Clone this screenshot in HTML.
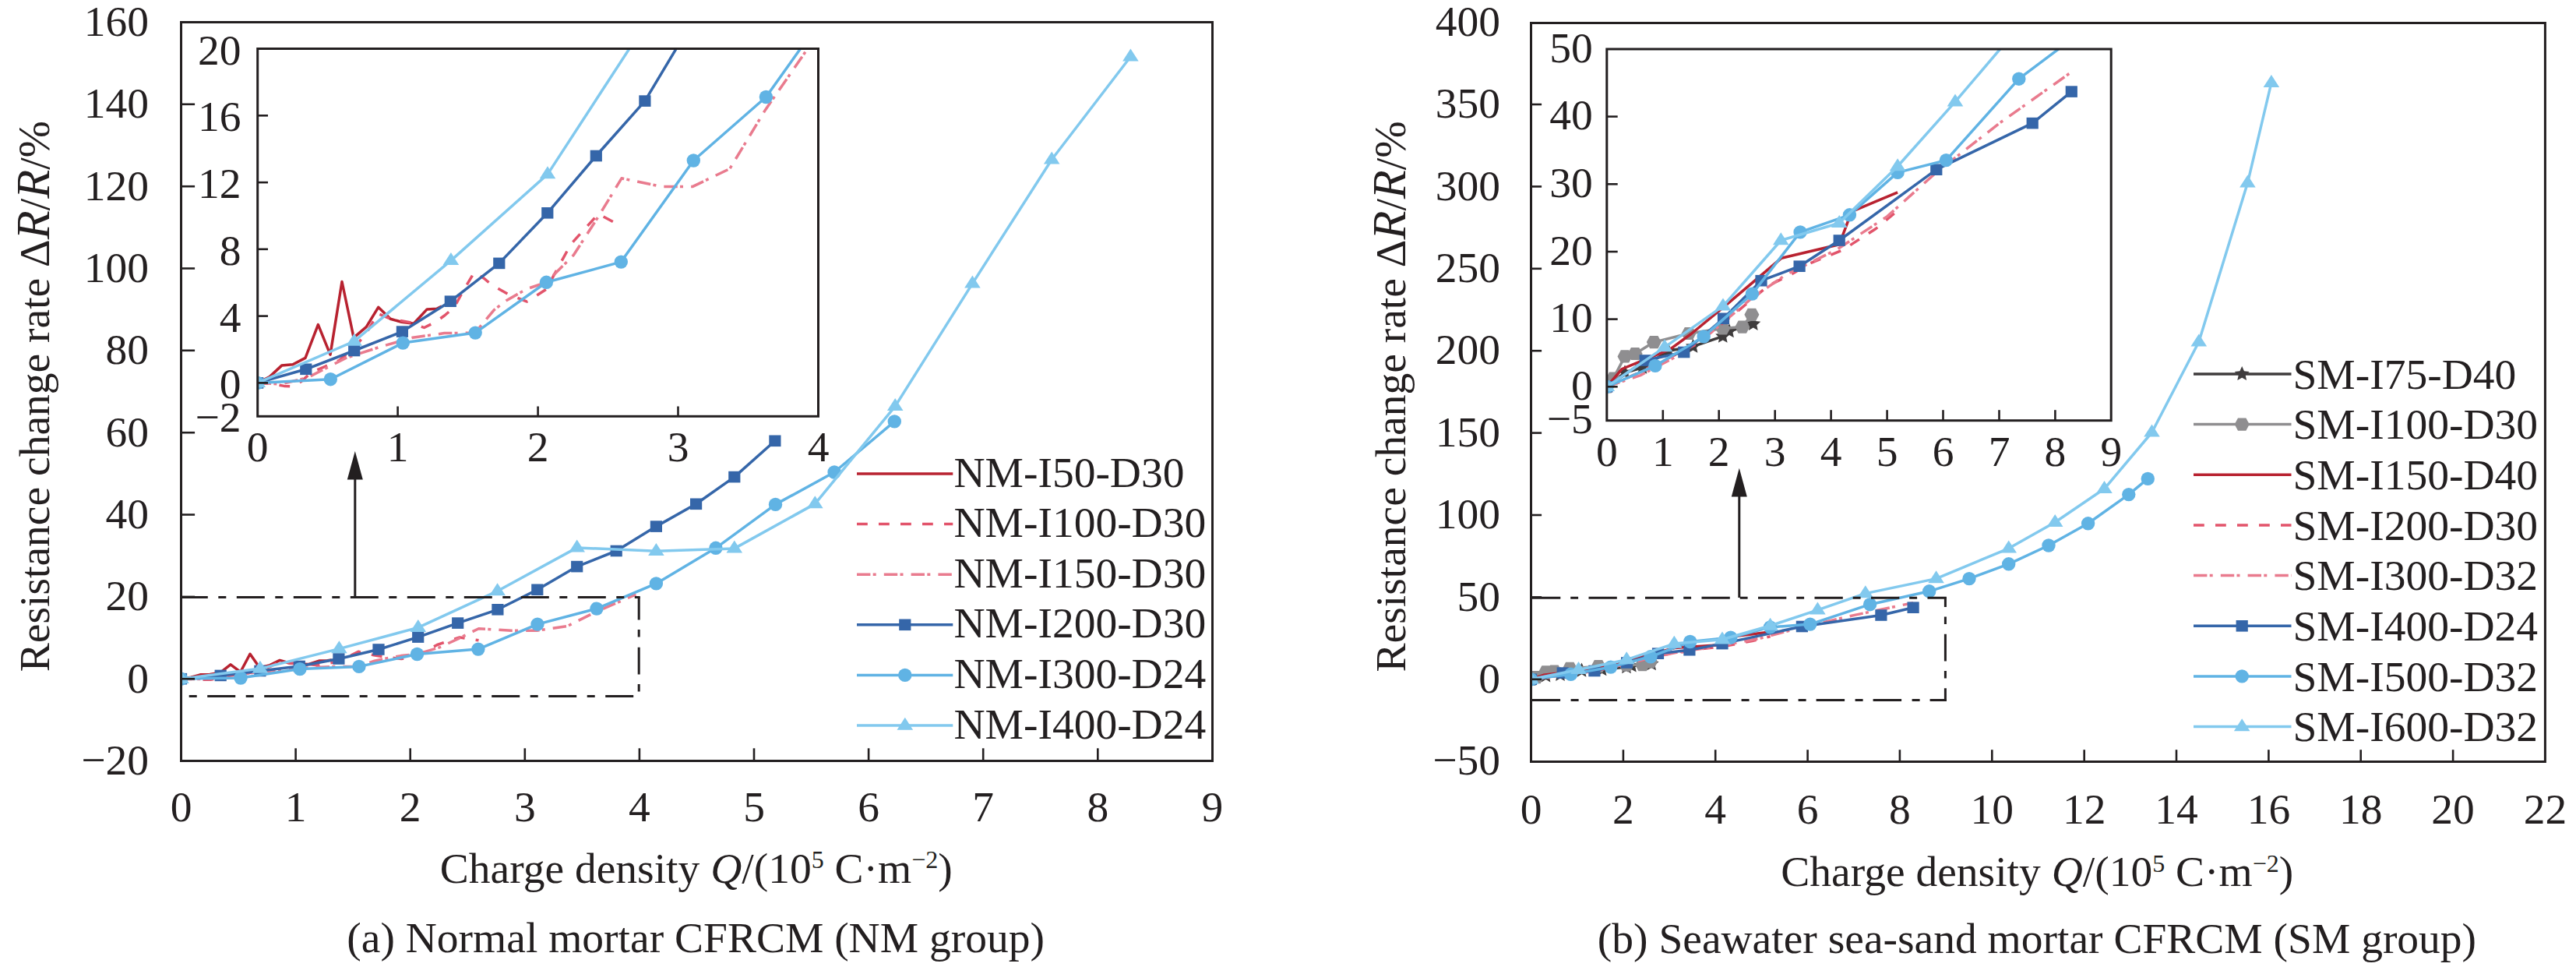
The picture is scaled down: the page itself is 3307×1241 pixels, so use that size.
<!DOCTYPE html>
<html><head><meta charset="utf-8"><title>Resistance change rate vs charge density</title>
<style>html,body{margin:0;padding:0;background:#fff;width:3307px;height:1241px;overflow:hidden}svg{display:block}</style>
</head><body>
<svg width="3307" height="1241" viewBox="0 0 3307 1241" font-family="&quot;Liberation Serif&quot;, serif" fill="#231f20">
<defs>
<clipPath id="cA"><rect x="330.7" y="62.5" width="719.8" height="471.79999999999995"/></clipPath>
<clipPath id="cB"><rect x="2062.8" y="63.0" width="647.3999999999996" height="476.70000000000005"/></clipPath>
<clipPath id="cMA"><rect x="232.5" y="28.5" width="1324.0" height="948.0"/></clipPath>
<clipPath id="cMB"><rect x="1965.5" y="29.5" width="1301.9" height="948.0"/></clipPath>
</defs>
<rect width="3307" height="1241" fill="#fff"/>
<g clip-path="url(#cMA)">
<polyline points="232.5,871.2 236,870.7 245.1,869.3 257.8,865.7 269.4,865.4 282.6,863.3 296,852.8 308.8,862.3 321,839.3 333.4,856.9 346.5,853.6 359.2,847.4 371.9,851 383.6,852 396.4,852.5 410.3,848 420.4,847.8 425.7,847" fill="none" stroke="#b82230" stroke-width="3.5" stroke-linejoin="round"/>
<polyline points="232.5,871.2 248.3,871.5 260.3,872.2 270.4,872.3 278.6,870.7 288.7,867.9 302.9,866.1 318.2,864.1 334.1,860 346.4,855.6 351.6,853 358.7,849.3 371.9,851 394.2,852.2 407.3,853.8 419.5,851.9 428.6,850 438.7,847.4 448.9,841.9 460,836.3 470.1,838.2 478.3,840.4 496.5,843.4 515.3,845.6 535.4,841.7 561.3,827.5 590.1,818 614.5,821.8" fill="none" stroke="#e2546b" stroke-width="3.5" stroke-linejoin="round" stroke-dasharray="13.8,14.2"/>
<polyline points="232.5,871.2 256.5,871.6 284.7,869.6 325.2,863.3 362.7,859.7 395.3,856.9 428.5,855.5 460.7,855.4 480.8,848.2 493.5,845.3 514.8,841.6 535.4,839.5 564.1,830.9 590.1,818.8 614.5,806.7 656.2,809.3 689.2,809.3 728,803.7 765.4,785.1 804.2,768.3 816.4,762.8" fill="none" stroke="#e97b8e" stroke-width="3.5" stroke-linejoin="round" stroke-dasharray="17.4,3.3,4,10.1"/>
<polyline points="232.5,871.2 283.2,866.9 333.9,861 384.3,855 434.9,845.5 486,833.5 536.7,817.6 587.7,799.6 638.9,782.3 689.8,756.8 740.7,727.1 791.2,707 842.4,675.6 893.6,646.8 942.8,612.1 994.9,565.8" fill="none" stroke="#3566a9" stroke-width="3.5" stroke-linejoin="round"/>
<rect x="224.9" y="863.9" width="15.2" height="14.6" fill="#3566a9"/>
<rect x="275.6" y="859.6" width="15.2" height="14.6" fill="#3566a9"/>
<rect x="326.3" y="853.7" width="15.2" height="14.6" fill="#3566a9"/>
<rect x="376.7" y="847.7" width="15.2" height="14.6" fill="#3566a9"/>
<rect x="427.3" y="838.2" width="15.2" height="14.6" fill="#3566a9"/>
<rect x="478.4" y="826.2" width="15.2" height="14.6" fill="#3566a9"/>
<rect x="529.1" y="810.3" width="15.2" height="14.6" fill="#3566a9"/>
<rect x="580.1" y="792.3" width="15.2" height="14.6" fill="#3566a9"/>
<rect x="631.3" y="775" width="15.2" height="14.6" fill="#3566a9"/>
<rect x="682.2" y="749.5" width="15.2" height="14.6" fill="#3566a9"/>
<rect x="733.1" y="719.8" width="15.2" height="14.6" fill="#3566a9"/>
<rect x="783.6" y="699.7" width="15.2" height="14.6" fill="#3566a9"/>
<rect x="834.8" y="668.3" width="15.2" height="14.6" fill="#3566a9"/>
<rect x="886" y="639.5" width="15.2" height="14.6" fill="#3566a9"/>
<rect x="935.2" y="604.8" width="15.2" height="14.6" fill="#3566a9"/>
<rect x="987.3" y="558.5" width="15.2" height="14.6" fill="#3566a9"/>
<polyline points="232.5,871.2 309,870 385,858.6 460.9,855.4 535.5,839.5 613.9,833.1 690,801.1 766,781.1 842.4,748.9 918.9,703.3 995.5,647.4 1071.1,606 1148.3,540.9" fill="none" stroke="#60b3e4" stroke-width="3.5" stroke-linejoin="round"/>
<circle cx="232.5" cy="871.2" r="8.7" fill="#60b3e4"/>
<circle cx="309" cy="870" r="8.7" fill="#60b3e4"/>
<circle cx="385" cy="858.6" r="8.7" fill="#60b3e4"/>
<circle cx="460.9" cy="855.4" r="8.7" fill="#60b3e4"/>
<circle cx="535.5" cy="839.5" r="8.7" fill="#60b3e4"/>
<circle cx="613.9" cy="833.1" r="8.7" fill="#60b3e4"/>
<circle cx="690" cy="801.1" r="8.7" fill="#60b3e4"/>
<circle cx="766" cy="781.1" r="8.7" fill="#60b3e4"/>
<circle cx="842.4" cy="748.9" r="8.7" fill="#60b3e4"/>
<circle cx="918.9" cy="703.3" r="8.7" fill="#60b3e4"/>
<circle cx="995.5" cy="647.4" r="8.7" fill="#60b3e4"/>
<circle cx="1071.1" cy="606" r="8.7" fill="#60b3e4"/>
<circle cx="1148.3" cy="540.9" r="8.7" fill="#60b3e4"/>
<polyline points="232.5,871.2 333.9,858.1 435.4,832.6 536.8,805.4 638.6,758.5 740.7,702.9 842.4,707.3 942.8,703.9 1046.3,646.6 1149.2,521.4 1248.4,363.9 1350.2,204.7 1451.4,72.7" fill="none" stroke="#82c9ee" stroke-width="3.5" stroke-linejoin="round"/>
<polygon points="232.5,860.9 222.2,876.9 242.8,876.9" fill="#82c9ee"/>
<polygon points="333.9,847.8 323.6,863.8 344.2,863.8" fill="#82c9ee"/>
<polygon points="435.4,822.3 425.1,838.3 445.7,838.3" fill="#82c9ee"/>
<polygon points="536.8,795.1 526.5,811.1 547.1,811.1" fill="#82c9ee"/>
<polygon points="638.6,748.2 628.3,764.2 648.9,764.2" fill="#82c9ee"/>
<polygon points="740.7,692.6 730.4,708.6 751,708.6" fill="#82c9ee"/>
<polygon points="842.4,697 832.1,713 852.7,713" fill="#82c9ee"/>
<polygon points="942.8,693.6 932.5,709.6 953.1,709.6" fill="#82c9ee"/>
<polygon points="1046.3,636.3 1036,652.3 1056.6,652.3" fill="#82c9ee"/>
<polygon points="1149.2,511.1 1138.9,527.1 1159.5,527.1" fill="#82c9ee"/>
<polygon points="1248.4,353.6 1238.1,369.6 1258.7,369.6" fill="#82c9ee"/>
<polygon points="1350.2,194.4 1339.9,210.4 1360.5,210.4" fill="#82c9ee"/>
<polygon points="1451.4,62.4 1441.1,78.4 1461.7,78.4" fill="#82c9ee"/>
</g>
<line x1="232.5" y1="766.5" x2="821.7" y2="766.5" stroke="#231f20" stroke-width="3" stroke-dasharray="36,13.5,10,13.5" stroke-dashoffset="1.7"/>
<line x1="820.2" y1="766.5" x2="820.2" y2="894.8" stroke="#231f20" stroke-width="3" stroke-dasharray="34.7,12.4,9.7,13.2" stroke-dashoffset="5.7"/>
<line x1="821.7" y1="893.4" x2="232.5" y2="893.4" stroke="#231f20" stroke-width="3" stroke-dasharray="36,13.5,10,13.5" stroke-dashoffset="64.5"/>
<line x1="455.8" y1="766.5" x2="455.8" y2="612" stroke="#231f20" stroke-width="3" />
<polygon points="455.8,579 445.8,615.5 465.8,615.5" fill="#231f20"/>
<rect x="232.5" y="28.5" width="1324" height="948" fill="none" stroke="#231f20" stroke-width="3.0"/>
<line x1="379.6" y1="976.5" x2="379.6" y2="960.3" stroke="#231f20" stroke-width="2.6" />
<line x1="526.7" y1="976.5" x2="526.7" y2="960.3" stroke="#231f20" stroke-width="2.6" />
<line x1="673.8" y1="976.5" x2="673.8" y2="960.3" stroke="#231f20" stroke-width="2.6" />
<line x1="820.9" y1="976.5" x2="820.9" y2="960.3" stroke="#231f20" stroke-width="2.6" />
<line x1="968" y1="976.5" x2="968" y2="960.3" stroke="#231f20" stroke-width="2.6" />
<line x1="1115.1" y1="976.5" x2="1115.1" y2="960.3" stroke="#231f20" stroke-width="2.6" />
<line x1="1262.2" y1="976.5" x2="1262.2" y2="960.3" stroke="#231f20" stroke-width="2.6" />
<line x1="1409.3" y1="976.5" x2="1409.3" y2="960.3" stroke="#231f20" stroke-width="2.6" />
<text x="191" y="993.8" font-size="55.5" text-anchor="end" >−20</text>
<line x1="232.5" y1="871.2" x2="250.1" y2="871.2" stroke="#231f20" stroke-width="2.6" />
<text x="191" y="888.5" font-size="55.5" text-anchor="end" >0</text>
<line x1="232.5" y1="765.9" x2="250.1" y2="765.9" stroke="#231f20" stroke-width="2.6" />
<text x="191" y="783.2" font-size="55.5" text-anchor="end" >20</text>
<line x1="232.5" y1="660.5" x2="250.1" y2="660.5" stroke="#231f20" stroke-width="2.6" />
<text x="191" y="677.8" font-size="55.5" text-anchor="end" >40</text>
<line x1="232.5" y1="555.2" x2="250.1" y2="555.2" stroke="#231f20" stroke-width="2.6" />
<text x="191" y="572.5" font-size="55.5" text-anchor="end" >60</text>
<line x1="232.5" y1="449.8" x2="250.1" y2="449.8" stroke="#231f20" stroke-width="2.6" />
<text x="191" y="467.1" font-size="55.5" text-anchor="end" >80</text>
<line x1="232.5" y1="344.5" x2="250.1" y2="344.5" stroke="#231f20" stroke-width="2.6" />
<text x="191" y="361.8" font-size="55.5" text-anchor="end" >100</text>
<line x1="232.5" y1="239.2" x2="250.1" y2="239.2" stroke="#231f20" stroke-width="2.6" />
<text x="191" y="256.5" font-size="55.5" text-anchor="end" >120</text>
<line x1="232.5" y1="133.8" x2="250.1" y2="133.8" stroke="#231f20" stroke-width="2.6" />
<text x="191" y="151.1" font-size="55.5" text-anchor="end" >140</text>
<text x="191" y="45.8" font-size="55.5" text-anchor="end" >160</text>
<text x="232.5" y="1054.2" font-size="55.5" text-anchor="middle" >0</text>
<text x="379.6" y="1054.2" font-size="55.5" text-anchor="middle" >1</text>
<text x="526.7" y="1054.2" font-size="55.5" text-anchor="middle" >2</text>
<text x="673.8" y="1054.2" font-size="55.5" text-anchor="middle" >3</text>
<text x="820.9" y="1054.2" font-size="55.5" text-anchor="middle" >4</text>
<text x="968" y="1054.2" font-size="55.5" text-anchor="middle" >5</text>
<text x="1115.1" y="1054.2" font-size="55.5" text-anchor="middle" >6</text>
<text x="1262.2" y="1054.2" font-size="55.5" text-anchor="middle" >7</text>
<text x="1409.3" y="1054.2" font-size="55.5" text-anchor="middle" >8</text>
<text x="1556.4" y="1054.2" font-size="55.5" text-anchor="middle" >9</text>
<rect x="330.7" y="62.5" width="719.8" height="471.8" fill="#fff"/>
<polyline points="330.7,491.4 335,489.2 346.1,483.6 361.6,469.1 375.9,467.8 392,459.4 408.4,416.6 424,455.1 439,361.5 454.1,433.3 470.2,419.7 485.7,394.3 501.2,409.2 515.5,413.3 531.2,415.3 548.2,396.9 560.6,396.3 567,393" fill="none" stroke="#b82230" stroke-width="3.5" stroke-linejoin="round" clip-path="url(#cA)"/>
<polyline points="330.7,491.4 350,492.5 364.7,495.4 377.1,496 387.1,489.2 399.5,478 416.8,470.6 435.5,462.5 455,446 470,428 476.4,417.2 485.1,402.3 501.2,409.2 528.5,414.1 544.5,420.5 559.4,413 570.6,405 583,394.4 595.4,372.1 609,349.2 621.4,357.2 631.4,365.9 653.7,378.3 676.6,387.1 701.2,371.3 732.9,313.3 768.1,274.6 798,290.4" fill="none" stroke="#e2546b" stroke-width="3.5" stroke-linejoin="round" stroke-dasharray="13.8,14.2" clip-path="url(#cA)"/>
<polyline points="330.7,491.4 360,493 394.5,484.8 444.1,459.4 490,444.5 529.8,433.3 570.5,427.6 609.8,427.1 634.4,397.7 650,385.8 676,370.9 701.2,362.5 736.4,327.3 768.1,278.1 798,228.8 849,239.4 889.4,239.4 936.9,216.5 982.6,140.9 1030.1,72.3 1045,50" fill="none" stroke="#e97b8e" stroke-width="3.5" stroke-linejoin="round" stroke-dasharray="17.4,3.3,4,10.1" clip-path="url(#cA)"/>
<g clip-path="url(#cA)">
<polyline points="330.7,491.4 392.8,473.8 454.7,450 516.4,425.6 578.3,386.7 640.8,337.9 702.8,273.3 765.3,200 827.9,129.6 890.2,25.6 952.4,-95.3 1014.2,-177.3 1076.8,-305.1 1139.4,-422.2 1199.7,-563.5 1263.4,-752" fill="none" stroke="#3566a9" stroke-width="3.5" stroke-linejoin="round"/>
<rect x="323.1" y="484.1" width="15.2" height="14.6" fill="#3566a9"/>
<rect x="385.2" y="466.5" width="15.2" height="14.6" fill="#3566a9"/>
<rect x="447.1" y="442.7" width="15.2" height="14.6" fill="#3566a9"/>
<rect x="508.8" y="418.3" width="15.2" height="14.6" fill="#3566a9"/>
<rect x="570.7" y="379.4" width="15.2" height="14.6" fill="#3566a9"/>
<rect x="633.2" y="330.6" width="15.2" height="14.6" fill="#3566a9"/>
<rect x="695.2" y="266" width="15.2" height="14.6" fill="#3566a9"/>
<rect x="757.7" y="192.7" width="15.2" height="14.6" fill="#3566a9"/>
<rect x="820.3" y="122.3" width="15.2" height="14.6" fill="#3566a9"/>
<polyline points="330.7,491.4 424.3,486.7 517.3,440.1 610.2,427.1 701.4,362.3 797.3,336.1 890.3,206 983.4,124.5 1076.8,-6.6 1170.3,-192.3 1264.1,-419.8 1356.6,-588.4 1451.1,-853.4" fill="none" stroke="#60b3e4" stroke-width="3.5" stroke-linejoin="round"/>
<circle cx="330.7" cy="491.4" r="8.7" fill="#60b3e4"/>
<circle cx="424.3" cy="486.7" r="8.7" fill="#60b3e4"/>
<circle cx="517.3" cy="440.1" r="8.7" fill="#60b3e4"/>
<circle cx="610.2" cy="427.1" r="8.7" fill="#60b3e4"/>
<circle cx="701.4" cy="362.3" r="8.7" fill="#60b3e4"/>
<circle cx="797.3" cy="336.1" r="8.7" fill="#60b3e4"/>
<circle cx="890.3" cy="206" r="8.7" fill="#60b3e4"/>
<circle cx="983.4" cy="124.5" r="8.7" fill="#60b3e4"/>
<polyline points="330.7,491.4 454.7,438 578.9,334.4 703,223.6 827.5,32.5 952.4,-193.8 1076.8,-176 1199.7,-189.7 1326.2,-423 1452.1,-932.8 1573.4,-1574.2 1698,-2222.3 1821.8,-2759.7" fill="none" stroke="#82c9ee" stroke-width="3.5" stroke-linejoin="round"/>
<polygon points="330.7,481.1 320.4,497.1 341,497.1" fill="#82c9ee"/>
<polygon points="454.7,427.7 444.4,443.7 465,443.7" fill="#82c9ee"/>
<polygon points="578.9,324.1 568.6,340.1 589.2,340.1" fill="#82c9ee"/>
<polygon points="703,213.2 692.7,229.2 713.3,229.2" fill="#82c9ee"/>
</g>
<rect x="330.7" y="62.5" width="719.8" height="471.8" fill="none" stroke="#231f20" stroke-width="3.0"/>
<line x1="510.6" y1="534.3" x2="510.6" y2="521.5" stroke="#231f20" stroke-width="2.6" />
<line x1="690.6" y1="534.3" x2="690.6" y2="521.5" stroke="#231f20" stroke-width="2.6" />
<line x1="870.5" y1="534.3" x2="870.5" y2="521.5" stroke="#231f20" stroke-width="2.6" />
<text x="330.7" y="592.3" font-size="55.5" text-anchor="middle" >0</text>
<text x="510.6" y="592.3" font-size="55.5" text-anchor="middle" >1</text>
<text x="690.6" y="592.3" font-size="55.5" text-anchor="middle" >2</text>
<text x="870.5" y="592.3" font-size="55.5" text-anchor="middle" >3</text>
<text x="1050.5" y="592.3" font-size="55.5" text-anchor="middle" >4</text>
<text x="309.5" y="554.3" font-size="55.5" text-anchor="end" >−2</text>
<line x1="330.7" y1="491.4" x2="344" y2="491.4" stroke="#231f20" stroke-width="2.6" />
<text x="309.5" y="511.4" font-size="55.5" text-anchor="end" >0</text>
<line x1="330.7" y1="405.6" x2="344" y2="405.6" stroke="#231f20" stroke-width="2.6" />
<text x="309.5" y="425.6" font-size="55.5" text-anchor="end" >4</text>
<line x1="330.7" y1="319.8" x2="344" y2="319.8" stroke="#231f20" stroke-width="2.6" />
<text x="309.5" y="339.8" font-size="55.5" text-anchor="end" >8</text>
<line x1="330.7" y1="234.1" x2="344" y2="234.1" stroke="#231f20" stroke-width="2.6" />
<text x="309.5" y="254.1" font-size="55.5" text-anchor="end" >12</text>
<line x1="330.7" y1="148.3" x2="344" y2="148.3" stroke="#231f20" stroke-width="2.6" />
<text x="309.5" y="168.3" font-size="55.5" text-anchor="end" >16</text>
<text x="309.5" y="82.5" font-size="55.5" text-anchor="end" >20</text>
<line x1="1100" y1="608" x2="1223.3" y2="608" stroke="#b82230" stroke-width="3.5" />
<text x="1224.5" y="624.6" font-size="55.5" text-anchor="start" >NM-I50-D30</text>
<line x1="1100" y1="672.6" x2="1223.3" y2="672.6" stroke="#e2546b" stroke-width="3.5" stroke-dasharray="13.8,14.2"/>
<text x="1224.5" y="689.2" font-size="55.5" text-anchor="start" >NM-I100-D30</text>
<line x1="1100" y1="737.2" x2="1223.3" y2="737.2" stroke="#e97b8e" stroke-width="3.5" stroke-dasharray="17.4,3.3,4,10.1"/>
<text x="1224.5" y="753.8" font-size="55.5" text-anchor="start" >NM-I150-D30</text>
<line x1="1100" y1="801.8" x2="1223.3" y2="801.8" stroke="#3566a9" stroke-width="3.5" />
<rect x="1154.2" y="794.5" width="15.2" height="14.6" fill="#3566a9"/>
<text x="1224.5" y="818.4" font-size="55.5" text-anchor="start" >NM-I200-D30</text>
<line x1="1100" y1="866.4" x2="1223.3" y2="866.4" stroke="#60b3e4" stroke-width="3.5" />
<circle cx="1161.8" cy="866.4" r="8.7" fill="#60b3e4"/>
<text x="1224.5" y="883" font-size="55.5" text-anchor="start" >NM-I300-D24</text>
<line x1="1100" y1="931" x2="1223.3" y2="931" stroke="#82c9ee" stroke-width="3.5" />
<polygon points="1161.8,920.7 1151.5,936.7 1172.1,936.7" fill="#82c9ee"/>
<text x="1224.5" y="947.6" font-size="55.5" text-anchor="start" >NM-I400-D24</text>
<text transform="translate(62.6,862.2) rotate(-90)" font-size="55.5">Resistance change rate Δ<tspan font-style="italic" font-size="60.5">R</tspan>/<tspan font-style="italic" font-size="60.5">R</tspan>/<tspan font-size="57">%</tspan></text>
<text x="564.8" y="1133" font-size="55.5">Charge density <tspan font-style="italic">Q</tspan>/(10<tspan dy="-18.8" font-size="32">5</tspan><tspan dy="18.8"> C·m</tspan><tspan dy="-18.8" font-size="32">−2</tspan><tspan dy="18.8">)</tspan></text>
<text x="445.3" y="1222" font-size="55.5" text-anchor="start" >(a) Normal mortar CFRCM (NM group)</text>
<g clip-path="url(#cMB)">
<polyline points="1965.5,871.8 1984.6,867.4 2003,865.8 2030.5,860.6 2056.6,859.3 2088,856.1 2094.8,854.5 2120.1,852.2" fill="none" stroke="#3f3c3d" stroke-width="3.5" stroke-linejoin="round"/>
<polygon points="1965.5,861.8 1968.3,868 1975,868.7 1970,873.3 1971.4,879.9 1965.5,876.5 1959.6,879.9 1961,873.3 1956,868.7 1962.7,868" fill="#3f3c3d"/>
<polygon points="1984.6,857.4 1987.3,863.6 1994.1,864.3 1989,868.8 1990.4,875.5 1984.6,872.1 1978.7,875.5 1980.1,868.8 1975,864.3 1981.8,863.6" fill="#3f3c3d"/>
<polygon points="2003,855.8 2005.8,862 2012.5,862.7 2007.5,867.3 2008.9,873.9 2003,870.5 1997.1,873.9 1998.6,867.3 1993.5,862.7 2000.3,862" fill="#3f3c3d"/>
<polygon points="2030.5,850.6 2033.3,856.8 2040,857.5 2035,862.1 2036.4,868.7 2030.5,865.3 2024.7,868.7 2026.1,862.1 2021,857.5 2027.8,856.8" fill="#3f3c3d"/>
<polygon points="2056.6,849.3 2059.3,855.5 2066.1,856.2 2061,860.7 2062.5,867.3 2056.6,864 2050.7,867.3 2052.1,860.7 2047.1,856.2 2053.8,855.5" fill="#3f3c3d"/>
<polygon points="2088,846.1 2090.8,852.3 2097.5,853 2092.5,857.5 2093.9,864.2 2088,860.8 2082.1,864.2 2083.5,857.5 2078.5,853 2085.2,852.3" fill="#3f3c3d"/>
<polygon points="2094.8,844.5 2097.6,850.7 2104.3,851.4 2099.3,856 2100.7,862.6 2094.8,859.2 2088.9,862.6 2090.3,856 2085.3,851.4 2092,850.7" fill="#3f3c3d"/>
<polygon points="2120.1,842.2 2122.9,848.4 2129.6,849.1 2124.6,853.7 2126,860.3 2120.1,856.9 2114.3,860.3 2115.7,853.7 2110.6,849.1 2117.4,848.4" fill="#3f3c3d"/>
<polyline points="1965.5,871.8 1972.4,869.2 1984.6,862.3 1995.4,861.5 2015.3,857.9 2052,855.2 2088,853.6 2108.6,853.1 2118.6,849.3" fill="none" stroke="#8f8e90" stroke-width="3.5" stroke-linejoin="round"/>
<polygon points="1956,871.8 1960.3,863.7 1970.7,863.7 1975,871.8 1970.7,879.9 1960.3,879.9" fill="#8f8e90"/>
<polygon points="1962.9,869.2 1967.2,861.1 1977.6,861.1 1981.9,869.2 1977.6,877.3 1967.2,877.3" fill="#8f8e90"/>
<polygon points="1975.1,862.3 1979.4,854.2 1989.8,854.2 1994.1,862.3 1989.8,870.4 1979.4,870.4" fill="#8f8e90"/>
<polygon points="1985.9,861.5 1990.2,853.4 2000.6,853.4 2004.9,861.5 2000.6,869.6 1990.2,869.6" fill="#8f8e90"/>
<polygon points="2005.8,857.9 2010.1,849.8 2020.5,849.8 2024.8,857.9 2020.5,866 2010.1,866" fill="#8f8e90"/>
<polygon points="2042.5,855.2 2046.8,847.1 2057.2,847.1 2061.5,855.2 2057.2,863.3 2046.8,863.3" fill="#8f8e90"/>
<polygon points="2078.5,853.6 2082.8,845.5 2093.2,845.5 2097.5,853.6 2093.2,861.7 2082.8,861.7" fill="#8f8e90"/>
<polygon points="2099.1,853.1 2103.4,845 2113.8,845 2118.1,853.1 2113.8,861.2 2103.4,861.2" fill="#8f8e90"/>
<polygon points="2109.1,849.3 2113.4,841.2 2123.8,841.2 2128.1,849.3 2123.8,857.4 2113.4,857.4" fill="#8f8e90"/>
<polyline points="1965.5,871.8 1981.5,866.3 1998.4,864.2 2032.1,860.1 2055,855.2 2090.3,846.6 2149.9,831.6 2211,827.4 2223.9,817.1 2272.5,811.1" fill="none" stroke="#b82230" stroke-width="3.5" stroke-linejoin="round"/>
<polyline points="1965.5,871.8 1995.1,868 2024.7,863.8 2060.2,858.5 2101.1,848.8 2136.2,840.2 2163.8,836.2 2178.5,833.4 2214.1,829.2 2249.6,822.5 2272.6,816.8" fill="none" stroke="#e2546b" stroke-width="3.5" stroke-linejoin="round" stroke-dasharray="13.8,14.2"/>
<polyline points="1965.5,871.8 2001,868.2 2036.5,862.7 2077.9,854.3 2119.4,844 2154.9,836.8 2208.1,829 2261.4,818.7 2310.7,805.6 2379.8,789.6 2456.1,773.6" fill="none" stroke="#e97b8e" stroke-width="3.5" stroke-linejoin="round" stroke-dasharray="17.4,3.3,4,10.1"/>
<polyline points="1965.5,871.8 2006.2,863.6 2046.9,861 2088.6,850.5 2128.5,838.7 2168.9,834.2 2211,826.1 2313.4,804 2414.9,789.5 2456.1,779.7" fill="none" stroke="#3566a9" stroke-width="3.5" stroke-linejoin="round"/>
<rect x="1957.9" y="864.5" width="15.2" height="14.6" fill="#3566a9"/>
<rect x="1998.6" y="856.3" width="15.2" height="14.6" fill="#3566a9"/>
<rect x="2039.3" y="853.7" width="15.2" height="14.6" fill="#3566a9"/>
<rect x="2081" y="843.2" width="15.2" height="14.6" fill="#3566a9"/>
<rect x="2120.9" y="831.4" width="15.2" height="14.6" fill="#3566a9"/>
<rect x="2161.3" y="826.9" width="15.2" height="14.6" fill="#3566a9"/>
<rect x="2203.4" y="818.8" width="15.2" height="14.6" fill="#3566a9"/>
<rect x="2305.8" y="796.7" width="15.2" height="14.6" fill="#3566a9"/>
<rect x="2407.3" y="782.2" width="15.2" height="14.6" fill="#3566a9"/>
<rect x="2448.5" y="772.4" width="15.2" height="14.6" fill="#3566a9"/>
<polyline points="1965.5,871.8 2016.6,865.3 2067.8,856.1 2119,842.8 2169.7,823.5 2221.8,818.2 2272.5,804.9 2323.8,801.1 2400.6,775.7 2476.7,758.8 2528,742.6 2578.7,723.8 2630,700 2680.6,671.8 2732.8,634.6 2757.3,614.4" fill="none" stroke="#60b3e4" stroke-width="3.5" stroke-linejoin="round"/>
<circle cx="1965.5" cy="871.8" r="8.7" fill="#60b3e4"/>
<circle cx="2016.6" cy="865.3" r="8.7" fill="#60b3e4"/>
<circle cx="2067.8" cy="856.1" r="8.7" fill="#60b3e4"/>
<circle cx="2119" cy="842.8" r="8.7" fill="#60b3e4"/>
<circle cx="2169.7" cy="823.5" r="8.7" fill="#60b3e4"/>
<circle cx="2221.8" cy="818.2" r="8.7" fill="#60b3e4"/>
<circle cx="2272.5" cy="804.9" r="8.7" fill="#60b3e4"/>
<circle cx="2323.8" cy="801.1" r="8.7" fill="#60b3e4"/>
<circle cx="2400.6" cy="775.7" r="8.7" fill="#60b3e4"/>
<circle cx="2476.7" cy="758.8" r="8.7" fill="#60b3e4"/>
<circle cx="2528" cy="742.6" r="8.7" fill="#60b3e4"/>
<circle cx="2578.7" cy="723.8" r="8.7" fill="#60b3e4"/>
<circle cx="2630" cy="700" r="8.7" fill="#60b3e4"/>
<circle cx="2680.6" cy="671.8" r="8.7" fill="#60b3e4"/>
<circle cx="2732.8" cy="634.6" r="8.7" fill="#60b3e4"/>
<circle cx="2757.3" cy="614.4" r="8.7" fill="#60b3e4"/>
<polyline points="1965.5,871.8 2026.5,859.5 2088.2,846.7 2149.3,826.1 2211,820.7 2272.6,803 2333.4,782.9 2394.8,761.6 2485.6,742.6 2578.7,703.8 2638.2,670.3 2701.5,627.3 2762.5,555 2822.8,438.8 2885.4,234.8 2915.9,106.2" fill="none" stroke="#82c9ee" stroke-width="3.5" stroke-linejoin="round"/>
<polygon points="1965.5,861.5 1955.2,877.5 1975.8,877.5" fill="#82c9ee"/>
<polygon points="2026.5,849.1 2016.2,865.1 2036.8,865.1" fill="#82c9ee"/>
<polygon points="2088.2,836.3 2077.9,852.3 2098.5,852.3" fill="#82c9ee"/>
<polygon points="2149.3,815.8 2139,831.8 2159.6,831.8" fill="#82c9ee"/>
<polygon points="2211,810.4 2200.7,826.4 2221.3,826.4" fill="#82c9ee"/>
<polygon points="2272.6,792.7 2262.3,808.7 2282.9,808.7" fill="#82c9ee"/>
<polygon points="2333.4,772.6 2323.1,788.6 2343.7,788.6" fill="#82c9ee"/>
<polygon points="2394.8,751.2 2384.5,767.2 2405.1,767.2" fill="#82c9ee"/>
<polygon points="2485.6,732.3 2475.3,748.3 2495.9,748.3" fill="#82c9ee"/>
<polygon points="2578.7,693.5 2568.4,709.5 2589,709.5" fill="#82c9ee"/>
<polygon points="2638.2,660 2627.9,676 2648.5,676" fill="#82c9ee"/>
<polygon points="2701.5,617 2691.2,633 2711.8,633" fill="#82c9ee"/>
<polygon points="2762.5,544.6 2752.2,560.6 2772.8,560.6" fill="#82c9ee"/>
<polygon points="2822.8,428.5 2812.5,444.5 2833.1,444.5" fill="#82c9ee"/>
<polygon points="2885.4,224.4 2875.1,240.4 2895.7,240.4" fill="#82c9ee"/>
<polygon points="2915.9,95.9 2905.6,111.9 2926.2,111.9" fill="#82c9ee"/>
</g>
<line x1="1965.5" y1="767.2" x2="2498.9" y2="767.2" stroke="#231f20" stroke-width="3" stroke-dasharray="36.3,12.9,9.9,13.4" stroke-dashoffset="71"/>
<line x1="2497.4" y1="767.2" x2="2497.4" y2="900" stroke="#231f20" stroke-width="3" stroke-dasharray="34.7,12.4,9.5,12.9" stroke-dashoffset="22.9"/>
<line x1="2498.9" y1="898.5" x2="1965.5" y2="898.5" stroke="#231f20" stroke-width="3" stroke-dasharray="36.5,13,10,13.5" stroke-dashoffset="15.2"/>
<line x1="2232.8" y1="767" x2="2232.8" y2="634" stroke="#231f20" stroke-width="3" />
<polygon points="2232.8,600.7 2222.8,637.5 2242.8,637.5" fill="#231f20"/>
<rect x="1965.5" y="29.5" width="1301.9" height="948" fill="none" stroke="#231f20" stroke-width="3.0"/>
<line x1="2083.9" y1="977.5" x2="2083.9" y2="962.2" stroke="#231f20" stroke-width="2.6" />
<line x1="2202.2" y1="977.5" x2="2202.2" y2="962.2" stroke="#231f20" stroke-width="2.6" />
<line x1="2320.6" y1="977.5" x2="2320.6" y2="962.2" stroke="#231f20" stroke-width="2.6" />
<line x1="2438.9" y1="977.5" x2="2438.9" y2="962.2" stroke="#231f20" stroke-width="2.6" />
<line x1="2557.3" y1="977.5" x2="2557.3" y2="962.2" stroke="#231f20" stroke-width="2.6" />
<line x1="2675.7" y1="977.5" x2="2675.7" y2="962.2" stroke="#231f20" stroke-width="2.6" />
<line x1="2794" y1="977.5" x2="2794" y2="962.2" stroke="#231f20" stroke-width="2.6" />
<line x1="2912.4" y1="977.5" x2="2912.4" y2="962.2" stroke="#231f20" stroke-width="2.6" />
<line x1="3030.7" y1="977.5" x2="3030.7" y2="962.2" stroke="#231f20" stroke-width="2.6" />
<line x1="3149.1" y1="977.5" x2="3149.1" y2="962.2" stroke="#231f20" stroke-width="2.6" />
<text x="1926" y="994.3" font-size="55.5" text-anchor="end" >−50</text>
<line x1="1965.5" y1="871.8" x2="1979.1" y2="871.8" stroke="#231f20" stroke-width="2.6" />
<text x="1926" y="888.9" font-size="55.5" text-anchor="end" >0</text>
<line x1="1965.5" y1="766.4" x2="1979.1" y2="766.4" stroke="#231f20" stroke-width="2.6" />
<text x="1926" y="783.5" font-size="55.5" text-anchor="end" >50</text>
<line x1="1965.5" y1="661" x2="1979.1" y2="661" stroke="#231f20" stroke-width="2.6" />
<text x="1926" y="678.1" font-size="55.5" text-anchor="end" >100</text>
<line x1="1965.5" y1="555.6" x2="1979.1" y2="555.6" stroke="#231f20" stroke-width="2.6" />
<text x="1926" y="572.7" font-size="55.5" text-anchor="end" >150</text>
<line x1="1965.5" y1="450.2" x2="1979.1" y2="450.2" stroke="#231f20" stroke-width="2.6" />
<text x="1926" y="467.3" font-size="55.5" text-anchor="end" >200</text>
<line x1="1965.5" y1="344.8" x2="1979.1" y2="344.8" stroke="#231f20" stroke-width="2.6" />
<text x="1926" y="361.9" font-size="55.5" text-anchor="end" >250</text>
<line x1="1965.5" y1="239.4" x2="1979.1" y2="239.4" stroke="#231f20" stroke-width="2.6" />
<text x="1926" y="256.5" font-size="55.5" text-anchor="end" >300</text>
<line x1="1965.5" y1="134" x2="1979.1" y2="134" stroke="#231f20" stroke-width="2.6" />
<text x="1926" y="151.1" font-size="55.5" text-anchor="end" >350</text>
<text x="1926" y="45.7" font-size="55.5" text-anchor="end" >400</text>
<text x="1965.5" y="1057.2" font-size="55.5" text-anchor="middle" >0</text>
<text x="2083.9" y="1057.2" font-size="55.5" text-anchor="middle" >2</text>
<text x="2202.2" y="1057.2" font-size="55.5" text-anchor="middle" >4</text>
<text x="2320.6" y="1057.2" font-size="55.5" text-anchor="middle" >6</text>
<text x="2438.9" y="1057.2" font-size="55.5" text-anchor="middle" >8</text>
<text x="2557.3" y="1057.2" font-size="55.5" text-anchor="middle" >10</text>
<text x="2675.7" y="1057.2" font-size="55.5" text-anchor="middle" >12</text>
<text x="2794" y="1057.2" font-size="55.5" text-anchor="middle" >14</text>
<text x="2912.4" y="1057.2" font-size="55.5" text-anchor="middle" >16</text>
<text x="3030.7" y="1057.2" font-size="55.5" text-anchor="middle" >18</text>
<text x="3149.1" y="1057.2" font-size="55.5" text-anchor="middle" >20</text>
<text x="3267.5" y="1057.2" font-size="55.5" text-anchor="middle" >22</text>
<rect x="2062.8" y="63.0" width="647.4" height="476.7" fill="#fff"/>
<g clip-path="url(#cB)">
<polyline points="2062.8,496.3 2086,478.2 2108.4,471.7 2141.9,450.3 2173.5,444.7 2211.7,431.7 2220,425.2 2250.8,415.8" fill="none" stroke="#3f3c3d" stroke-width="3.5" stroke-linejoin="round"/>
<polygon points="2062.8,486.3 2065.6,492.5 2072.3,493.2 2067.3,497.8 2068.7,504.4 2062.8,501 2056.9,504.4 2058.3,497.8 2053.3,493.2 2060,492.5" fill="#3f3c3d"/>
<polygon points="2086,468.2 2088.7,474.4 2095.5,475.1 2090.4,479.6 2091.8,486.3 2086,482.9 2080.1,486.3 2081.5,479.6 2076.5,475.1 2083.2,474.4" fill="#3f3c3d"/>
<polygon points="2108.4,461.7 2111.2,467.9 2117.9,468.6 2112.9,473.1 2114.3,479.8 2108.4,476.4 2102.5,479.8 2103.9,473.1 2098.9,468.6 2105.7,467.9" fill="#3f3c3d"/>
<polygon points="2141.9,440.3 2144.6,446.5 2151.4,447.2 2146.3,451.7 2147.8,458.4 2141.9,455 2136,458.4 2137.4,451.7 2132.4,447.2 2139.1,446.5" fill="#3f3c3d"/>
<polygon points="2173.5,434.7 2176.3,440.9 2183,441.6 2178,446.2 2179.4,452.8 2173.5,449.4 2167.7,452.8 2169.1,446.2 2164,441.6 2170.8,440.9" fill="#3f3c3d"/>
<polygon points="2211.7,421.7 2214.5,427.9 2221.2,428.6 2216.2,433.2 2217.6,439.8 2211.7,436.4 2205.9,439.8 2207.3,433.2 2202.2,428.6 2209,427.9" fill="#3f3c3d"/>
<polygon points="2220,415.2 2222.8,421.4 2229.5,422.1 2224.5,426.7 2225.9,433.3 2220,429.9 2214.1,433.3 2215.5,426.7 2210.5,422.1 2217.2,421.4" fill="#3f3c3d"/>
<polygon points="2250.8,405.8 2253.6,412 2260.3,412.7 2255.3,417.2 2256.7,423.9 2250.8,420.5 2244.9,423.9 2246.3,417.2 2241.3,412.7 2248,412" fill="#3f3c3d"/>
<polyline points="2062.8,496.3 2071.2,485.6 2086,457.4 2099.1,454 2123.3,439.1 2168,428 2211.7,421.4 2236.8,419.6 2248.9,403.8" fill="none" stroke="#8f8e90" stroke-width="3.5" stroke-linejoin="round"/>
<polygon points="2053.3,496.3 2057.6,488.2 2068,488.2 2072.3,496.3 2068,504.4 2057.6,504.4" fill="#8f8e90"/>
<polygon points="2061.7,485.6 2066,477.5 2076.4,477.5 2080.7,485.6 2076.4,493.7 2066,493.7" fill="#8f8e90"/>
<polygon points="2076.5,457.4 2080.8,449.3 2091.2,449.3 2095.5,457.4 2091.2,465.5 2080.8,465.5" fill="#8f8e90"/>
<polygon points="2089.6,454 2093.9,445.9 2104.3,445.9 2108.6,454 2104.3,462.1 2093.9,462.1" fill="#8f8e90"/>
<polygon points="2113.8,439.1 2118.1,431 2128.5,431 2132.8,439.1 2128.5,447.2 2118.1,447.2" fill="#8f8e90"/>
<polygon points="2158.5,428 2162.8,419.9 2173.2,419.9 2177.5,428 2173.2,436.1 2162.8,436.1" fill="#8f8e90"/>
<polygon points="2202.2,421.4 2206.5,413.3 2216.9,413.3 2221.2,421.4 2216.9,429.5 2206.5,429.5" fill="#8f8e90"/>
<polygon points="2227.3,419.6 2231.6,411.5 2242,411.5 2246.3,419.6 2242,427.7 2231.6,427.7" fill="#8f8e90"/>
<polygon points="2239.4,403.8 2243.7,395.7 2254.1,395.7 2258.4,403.8 2254.1,411.9 2243.7,411.9" fill="#8f8e90"/>
<polyline points="2062.8,496.3 2082.3,473.5 2102.8,465.2 2143.8,448.4 2171.7,428 2214.5,392.6 2287,331.2 2361.2,313.8 2377,271.6 2436.1,246.8" fill="none" stroke="#b82230" stroke-width="3.5" stroke-linejoin="round"/>
<polyline points="2062.8,496.3 2098.8,480.7 2134.8,463.4 2177.9,441.7 2227.7,401.9 2270.3,366.5 2303.8,349.8 2321.8,338.6 2365,321.2 2408.2,293.5 2436.2,270.1" fill="none" stroke="#e2546b" stroke-width="3.5" stroke-linejoin="round" stroke-dasharray="13.8,14.2"/>
<polyline points="2062.8,496.3 2106,481.6 2149.1,459 2199.5,424.4 2249.9,381.9 2293,352.4 2357.8,320.4 2422.6,277.9 2482.5,224.2 2566.5,158.3 2659.3,92.4" fill="none" stroke="#e97b8e" stroke-width="3.5" stroke-linejoin="round" stroke-dasharray="17.4,3.3,4,10.1"/>
<polyline points="2062.8,496.3 2112.2,462.5 2161.8,452 2212.5,408.8 2261,360.2 2310.1,341.7 2361.2,308.5 2485.8,217.7 2609.2,158.1 2659.3,117.6" fill="none" stroke="#3566a9" stroke-width="3.5" stroke-linejoin="round"/>
<rect x="2055.2" y="489" width="15.2" height="14.6" fill="#3566a9"/>
<rect x="2104.6" y="455.2" width="15.2" height="14.6" fill="#3566a9"/>
<rect x="2154.2" y="444.7" width="15.2" height="14.6" fill="#3566a9"/>
<rect x="2204.9" y="401.5" width="15.2" height="14.6" fill="#3566a9"/>
<rect x="2253.4" y="352.9" width="15.2" height="14.6" fill="#3566a9"/>
<rect x="2302.5" y="334.4" width="15.2" height="14.6" fill="#3566a9"/>
<rect x="2353.6" y="301.2" width="15.2" height="14.6" fill="#3566a9"/>
<rect x="2478.2" y="210.4" width="15.2" height="14.6" fill="#3566a9"/>
<rect x="2601.6" y="150.8" width="15.2" height="14.6" fill="#3566a9"/>
<rect x="2651.7" y="110.3" width="15.2" height="14.6" fill="#3566a9"/>
<polyline points="2062.8,496.3 2124.9,469.4 2187.2,431.9 2249.4,377.1 2311.1,297.9 2374.4,275.8 2436.1,221.4 2498.4,205.6 2591.8,101.2 2684.3,31.7 2746.7,-35 2808.3,-112.1 2870.7,-210.1 2932.2,-326.2 2995.7,-478.7 3025.5,-561.9" fill="none" stroke="#60b3e4" stroke-width="3.5" stroke-linejoin="round"/>
<circle cx="2062.8" cy="496.3" r="8.7" fill="#60b3e4"/>
<circle cx="2124.9" cy="469.4" r="8.7" fill="#60b3e4"/>
<circle cx="2187.2" cy="431.9" r="8.7" fill="#60b3e4"/>
<circle cx="2249.4" cy="377.1" r="8.7" fill="#60b3e4"/>
<circle cx="2311.1" cy="297.9" r="8.7" fill="#60b3e4"/>
<circle cx="2374.4" cy="275.8" r="8.7" fill="#60b3e4"/>
<circle cx="2436.1" cy="221.4" r="8.7" fill="#60b3e4"/>
<circle cx="2498.4" cy="205.6" r="8.7" fill="#60b3e4"/>
<circle cx="2591.8" cy="101.2" r="8.7" fill="#60b3e4"/>
<polyline points="2062.8,496.3 2137,445.6 2212,392.9 2286.3,308.5 2361.2,286.3 2436.1,213.5 2510,130.7 2584.7,43 2695.2,-35 2808.3,-194.5 2880.7,-332.3 2957.6,-509.1 3031.8,-806.4 3105.1,-1283.9 3181.2,-2122.9 3218.3,-2651.6" fill="none" stroke="#82c9ee" stroke-width="3.5" stroke-linejoin="round"/>
<polygon points="2062.8,486 2052.5,502 2073.1,502" fill="#82c9ee"/>
<polygon points="2137,435.3 2126.7,451.3 2147.3,451.3" fill="#82c9ee"/>
<polygon points="2212,382.6 2201.7,398.6 2222.3,398.6" fill="#82c9ee"/>
<polygon points="2286.3,298.2 2276,314.2 2296.6,314.2" fill="#82c9ee"/>
<polygon points="2361.2,276 2350.9,292 2371.5,292" fill="#82c9ee"/>
<polygon points="2436.1,203.2 2425.8,219.2 2446.4,219.2" fill="#82c9ee"/>
<polygon points="2510,120.4 2499.7,136.4 2520.3,136.4" fill="#82c9ee"/>
</g>
<rect x="2062.8" y="63.0" width="647.4" height="476.7" fill="none" stroke="#231f20" stroke-width="3.0"/>
<line x1="2134.8" y1="539.7" x2="2134.8" y2="526.2" stroke="#231f20" stroke-width="2.6" />
<line x1="2206.7" y1="539.7" x2="2206.7" y2="526.2" stroke="#231f20" stroke-width="2.6" />
<line x1="2278.7" y1="539.7" x2="2278.7" y2="526.2" stroke="#231f20" stroke-width="2.6" />
<line x1="2350.6" y1="539.7" x2="2350.6" y2="526.2" stroke="#231f20" stroke-width="2.6" />
<line x1="2422.6" y1="539.7" x2="2422.6" y2="526.2" stroke="#231f20" stroke-width="2.6" />
<line x1="2494.5" y1="539.7" x2="2494.5" y2="526.2" stroke="#231f20" stroke-width="2.6" />
<line x1="2566.5" y1="539.7" x2="2566.5" y2="526.2" stroke="#231f20" stroke-width="2.6" />
<line x1="2638.4" y1="539.7" x2="2638.4" y2="526.2" stroke="#231f20" stroke-width="2.6" />
<text x="2062.8" y="598.3" font-size="55.5" text-anchor="middle" >0</text>
<text x="2134.8" y="598.3" font-size="55.5" text-anchor="middle" >1</text>
<text x="2206.7" y="598.3" font-size="55.5" text-anchor="middle" >2</text>
<text x="2278.7" y="598.3" font-size="55.5" text-anchor="middle" >3</text>
<text x="2350.6" y="598.3" font-size="55.5" text-anchor="middle" >4</text>
<text x="2422.6" y="598.3" font-size="55.5" text-anchor="middle" >5</text>
<text x="2494.5" y="598.3" font-size="55.5" text-anchor="middle" >6</text>
<text x="2566.5" y="598.3" font-size="55.5" text-anchor="middle" >7</text>
<text x="2638.4" y="598.3" font-size="55.5" text-anchor="middle" >8</text>
<text x="2710.4" y="598.3" font-size="55.5" text-anchor="middle" >9</text>
<text x="2044.8" y="556.2" font-size="55.5" text-anchor="end" >−5</text>
<line x1="2062.8" y1="496.3" x2="2076.7" y2="496.3" stroke="#231f20" stroke-width="2.6" />
<text x="2044.8" y="512.9" font-size="55.5" text-anchor="end" >0</text>
<line x1="2062.8" y1="409.6" x2="2076.7" y2="409.6" stroke="#231f20" stroke-width="2.6" />
<text x="2044.8" y="426.2" font-size="55.5" text-anchor="end" >10</text>
<line x1="2062.8" y1="323" x2="2076.7" y2="323" stroke="#231f20" stroke-width="2.6" />
<text x="2044.8" y="339.6" font-size="55.5" text-anchor="end" >20</text>
<line x1="2062.8" y1="236.3" x2="2076.7" y2="236.3" stroke="#231f20" stroke-width="2.6" />
<text x="2044.8" y="252.9" font-size="55.5" text-anchor="end" >30</text>
<line x1="2062.8" y1="149.6" x2="2076.7" y2="149.6" stroke="#231f20" stroke-width="2.6" />
<text x="2044.8" y="166.2" font-size="55.5" text-anchor="end" >40</text>
<text x="2044.8" y="79.6" font-size="55.5" text-anchor="end" >50</text>
<line x1="2816" y1="480" x2="2941.5" y2="480" stroke="#3f3c3d" stroke-width="3.5" />
<polygon points="2878.2,470 2881,476.2 2887.7,476.9 2882.7,481.5 2884.1,488.1 2878.2,484.7 2872.3,488.1 2873.7,481.5 2868.7,476.9 2875.4,476.2" fill="#3f3c3d"/>
<text x="2943.5" y="498.7" font-size="55.5" text-anchor="start" >SM-I75-D40</text>
<line x1="2816" y1="544.6" x2="2941.5" y2="544.6" stroke="#8f8e90" stroke-width="3.5" />
<polygon points="2868.7,544.6 2873,536.5 2883.4,536.5 2887.7,544.6 2883.4,552.8 2873,552.8" fill="#8f8e90"/>
<text x="2943.5" y="563.4" font-size="55.5" text-anchor="start" >SM-I100-D30</text>
<line x1="2816" y1="609.3" x2="2941.5" y2="609.3" stroke="#b82230" stroke-width="3.5" />
<text x="2943.5" y="628" font-size="55.5" text-anchor="start" >SM-I150-D40</text>
<line x1="2816" y1="674" x2="2941.5" y2="674" stroke="#e2546b" stroke-width="3.5" stroke-dasharray="13.8,14.2"/>
<text x="2943.5" y="692.7" font-size="55.5" text-anchor="start" >SM-I200-D30</text>
<line x1="2816" y1="738.6" x2="2941.5" y2="738.6" stroke="#e97b8e" stroke-width="3.5" stroke-dasharray="17.4,3.3,4,10.1"/>
<text x="2943.5" y="757.3" font-size="55.5" text-anchor="start" >SM-I300-D32</text>
<line x1="2816" y1="803.2" x2="2941.5" y2="803.2" stroke="#3566a9" stroke-width="3.5" />
<rect x="2870.6" y="796" width="15.2" height="14.6" fill="#3566a9"/>
<text x="2943.5" y="822" font-size="55.5" text-anchor="start" >SM-I400-D24</text>
<line x1="2816" y1="867.9" x2="2941.5" y2="867.9" stroke="#60b3e4" stroke-width="3.5" />
<circle cx="2878.2" cy="867.9" r="8.7" fill="#60b3e4"/>
<text x="2943.5" y="886.6" font-size="55.5" text-anchor="start" >SM-I500-D32</text>
<line x1="2816" y1="932.6" x2="2941.5" y2="932.6" stroke="#82c9ee" stroke-width="3.5" />
<polygon points="2878.2,922.2 2867.9,938.2 2888.5,938.2" fill="#82c9ee"/>
<text x="2943.5" y="951.3" font-size="55.5" text-anchor="start" >SM-I600-D32</text>
<text transform="translate(1803.8,862.5) rotate(-90)" font-size="55.5">Resistance change rate Δ<tspan font-style="italic" font-size="60.5">R</tspan>/<tspan font-style="italic" font-size="60.5">R</tspan>/<tspan font-size="57">%</tspan></text>
<text x="2286.3" y="1137.3" font-size="55.5">Charge density <tspan font-style="italic">Q</tspan>/(10<tspan dy="-18.8" font-size="32">5</tspan><tspan dy="18.8"> C·m</tspan><tspan dy="-18.8" font-size="32">−2</tspan><tspan dy="18.8">)</tspan></text>
<text x="2050.8" y="1223.3" font-size="55.5" text-anchor="start" >(b) Seawater sea-sand mortar CFRCM (SM group)</text>
</svg>
</body></html>
